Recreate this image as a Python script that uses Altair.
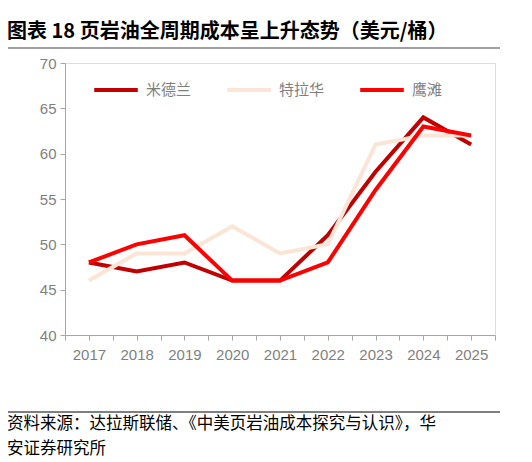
import altair as alt
import pandas as pd

years = [2017, 2018, 2019, 2020, 2021, 2022, 2023, 2024, 2025]
midland = [48, 47, 48, 46, 46, 51, 58, 64, 61]
delaware = [46, 49, 49, 52, 49, 50, 61, 62, 62]
eagle_ford = [48, 50, 51, 46, 46, 48, 56, 63, 62]
series_names = ["米德兰", "特拉华", "鹰滩"]
series_colors = ["#C00000", "#FBE5D6", "#FF0000"]
y_ticks = [40, 45, 50, 55, 60, 65, 70]
x_ticks = [2016.5, 2017, 2017.5, 2018, 2018.5, 2019, 2019.5, 2020, 2020.5,
           2021, 2021.5, 2022, 2022.5, 2023, 2023.5, 2024, 2024.5, 2025, 2025.5]
title_text = "图表 18  页岩油全周期成本呈上升态势（美元/桶）"
source_lines = ["资料来源：达拉斯联储、《中美页岩油成本探究与认识》，华", "安证券研究所"]

rows = []
for name, vals in zip(series_names, [midland, delaware, eagle_ford]):
    for y, v in zip(years, vals):
        rows.append({"year": y, "value": v, "series": name})
df = pd.DataFrame(rows)

W, H = 430, 272
FONT_CJK = "Noto Sans CJK SC"
AX = "Liberation Sans"

axis_gray = "#A6A6A6"
label_gray = "#7F7F7F"

lines = alt.Chart(df).mark_line(strokeWidth=4, strokeJoin="miter").encode(
    x=alt.X("year:Q", scale=alt.Scale(domain=[2016.5, 2025.5], nice=False, zero=False),
            axis=alt.Axis(values=x_ticks, title=None, grid=False,
                          labelExpr="datum.value % 1 === 0 ? toString(datum.value) : ''",
                          labelFont=AX, labelFontSize=15, labelColor=label_gray,
                          labelPadding=7, tickSize=5, tickColor=axis_gray,
                          domainColor=axis_gray, labelFlush=False, labelOverlap=False)),
    y=alt.Y("value:Q", scale=alt.Scale(domain=[40, 70], nice=False, zero=False),
            axis=alt.Axis(values=y_ticks, title=None, grid=False,
                          labelFont=AX, labelFontSize=15, labelColor=label_gray,
                          labelPadding=4, tickSize=5, tickColor=axis_gray,
                          domainColor=axis_gray)),
    color=alt.Color("series:N", sort=series_names,
                    scale=alt.Scale(domain=series_names, range=series_colors),
                    legend=alt.Legend(orient="none", legendX=27, legendY=3,
                                      direction="horizontal", title=None,
                                      symbolType="stroke", symbolSize=1900,
                                      symbolStrokeWidth=4, labelFont=FONT_CJK,
                                      labelFontSize=15, labelColor=label_gray,
                                      columnPadding=27, labelOffset=6, padding=0)),
    order=alt.Order("year:Q"),
)

title = alt.Chart(pd.DataFrame({"t": [title_text]})).mark_text(
    align="left", baseline="alphabetic", font=FONT_CJK, fontSize=20,
    fontWeight="bold", color="#000000"
).encode(x=alt.value(-58), y=alt.value(-25), text="t:N")

top_rule = alt.Chart(pd.DataFrame({"a": [0]})).mark_rule(
    color="#808080", strokeWidth=1.5
).encode(x=alt.value(-60), x2=alt.value(435), y=alt.value(-15))

bottom_rule = alt.Chart(pd.DataFrame({"a": [0]})).mark_rule(
    color="#000000", strokeWidth=1
).encode(x=alt.value(-60), x2=alt.value(435), y=alt.value(349))

src1 = alt.Chart(pd.DataFrame({"t": [source_lines[0]]})).mark_text(
    align="left", baseline="alphabetic", font=FONT_CJK, fontSize=16.5, color="#000000"
).encode(x=alt.value(-58), y=alt.value(366), text="t:N")

src2 = alt.Chart(pd.DataFrame({"t": [source_lines[1]]})).mark_text(
    align="left", baseline="alphabetic", font=FONT_CJK, fontSize=16.5, color="#000000"
).encode(x=alt.value(-58), y=alt.value(391), text="t:N")

chart = alt.layer(lines, title, top_rule, bottom_rule, src1, src2).properties(
    width=W, height=H,
    autosize=alt.AutoSizeParams(type="none"),
    padding={"left": 57, "top": 55, "right": 29, "bottom": 125},
).configure_view(stroke=None).configure(background="white")

chart.save("out.html", embed_options={"renderer": "svg", "actions": False})
